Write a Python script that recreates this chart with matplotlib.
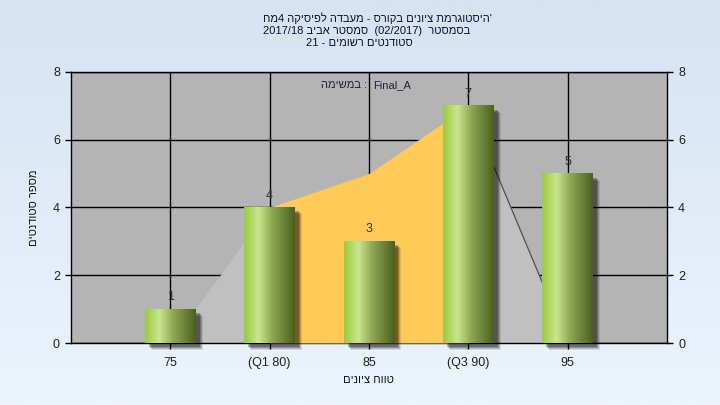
#!/usr/bin/env python3
"""
Grade histogram (course lab 4) - recreated with matplotlib.
"""
import numpy as np
import matplotlib.pyplot as plt
import matplotlib.transforms as mtransforms
from matplotlib.colors import LinearSegmentedColormap

plt.rcParams['font.family'] = ['Liberation Sans', 'DejaVu Sans']

# Data
categories = ['75', '(Q1 80)', '85', '(Q3 90)', '95']
counts = [1, 4, 3, 7, 5]
dist_values = [0, 4, 5, 7, 0]      # light gray background area
iqr_values = [4, 5, 7]             # orange area between Q1 and Q3
y_ticks = [0, 2, 4, 6, 8]

title_lines = ["'היסטוגרמת ציונים בקורס - מעבדה לפיסיקה 4מח",
               "בסמסטר  (02/2017)  סמסטר אביב 2017/18",
               "סטודנטים רשומים - 21"]
task_word = "במשימה"
task_name = "Final_A"
y_label = "מספר סטודנטים"
x_label = "טווח ציונים"


def rtl(text):
    # matplotlib has no bidi support: build the visual (left-to-right) order
    tokens = text.split(' ')
    out = []
    for t in reversed(tokens):
        if any('\u0590' <= c <= '\u05ff' for c in t):
            t = t[::-1]
        out.append(t)
    return ' '.join(out)


W, H = 720, 405
fig = plt.figure(figsize=(W / 100, H / 100), dpi=100)

# gradient page background
bg = fig.add_axes([0, 0, 1, 1], zorder=-10)
top_c = np.array([214, 227, 243]) / 255
bot_c = np.array([236, 244, 253]) / 255
t = np.linspace(0, 1, 256)[:, None]
grad = top_c[None, :] * (1 - t) + bot_c[None, :] * t
bg.imshow(grad[:, None, :], aspect='auto', extent=[0, 1, 0, 1])
bg.set_axis_off()

ax = fig.add_axes([71 / W, 1 - 343 / H, 596 / W, 271 / H])
ax.set_facecolor('#b4b4b4')
x = np.arange(len(categories))

# areas
ax.fill_between(x, dist_values, color='#c0c0c0', lw=0, zorder=2)
ax.fill_between(x[1:4], iqr_values, color='#ffca55', lw=0, zorder=3)
ax.plot(x[3:], dist_values[3:], color='#505050', lw=0.9, zorder=3)

# bars: cylinder-like gradient with soft shadow
bar_cmap = LinearSegmentedColormap.from_list('cyl', [
    (0.0, (0.60, 0.80, 0.24)),
    (0.28, (0.79, 0.90, 0.56)),
    (0.55, (0.56, 0.66, 0.33)),
    (1.0, (0.29, 0.38, 0.12)),
])
width = 0.51
for i, v in enumerate(counts):
    for off, a in [(7, 0.10), (6, 0.15), (5, 0.2), (4, 0.25)]:
        tr = ax.transData + mtransforms.ScaledTranslation(off / 100, -off / 100, fig.dpi_scale_trans)
        ax.add_patch(plt.Rectangle((x[i] - width / 2, 0), width, v, transform=tr,
                                   facecolor='black', alpha=a, lw=0, zorder=4, clip_on=False))
    g = np.linspace(0, 1, 128)[None, :]
    ax.imshow(g, cmap=bar_cmap, aspect='auto', zorder=5,
              extent=[x[i] - width / 2, x[i] + width / 2, 0, v])
    ax.annotate(str(v), (x[i], v), xytext=(0, 8.6), textcoords='offset points',
                ha='center', va='center', fontsize=9, color='#303030', zorder=6)

ax.set_xlim(-1, 5)
ax.set_ylim(0, 8)
ax.set_xticks(x)
ax.set_xticklabels(categories)
ax.set_yticks(y_ticks)
ax.grid(True, color='black', lw=1)
ax.set_axisbelow(True)
ax.tick_params(axis='both', direction='out', length=4, width=1, color='black',
               labelsize=9, labelcolor='#202020')
ax.tick_params(axis='x', pad=6)
ax.tick_params(axis='y', right=True, labelright=True, pad=4)
for sp in ax.spines.values():
    sp.set_color('black')
    sp.set_linewidth(1)

ax.text(0.497, 0.952, rtl(task_word) + " :", transform=ax.transAxes,
        ha='right', va='center', fontsize=8, color='#202040', zorder=7)
ax.text(0.507, 0.952, task_name, transform=ax.transAxes,
        ha='left', va='center', fontsize=8, color='#202040', zorder=7)

# titles and axis labels
for line, cx, by in zip(title_lines, [377, 367, 359], [21.5, 33.5, 45.5]):
    fig.text(cx / W, 1 - by / H, rtl(line), ha='center', va='baseline',
             fontsize=8, color='#101030')
fig.text(368 / W, 1 - 380 / H, rtl(x_label), ha='center', va='center',
         fontsize=8, color='#101030')
fig.text(34 / W, 1 - 208 / H, rtl(y_label), ha='center', va='center',
         rotation=90, fontsize=8, color='#101030')

fig.savefig('out.png', dpi=100)
